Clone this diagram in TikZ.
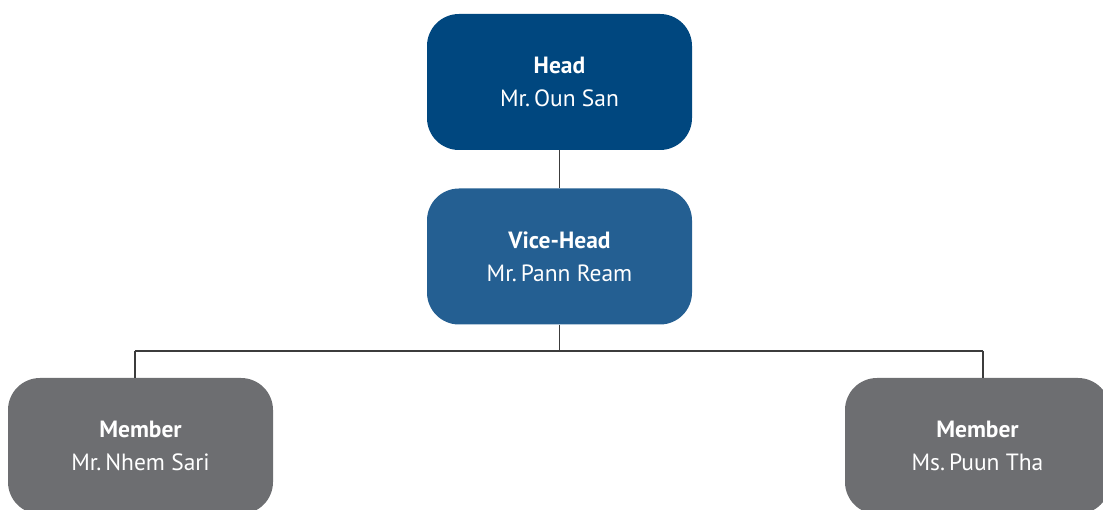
\documentclass[tikz,border=0pt]{standalone}
\usepackage{fontspec}
\setmainfont{PT Sans}
\definecolor{headblue}{HTML}{00477F}
\definecolor{viceblue}{HTML}{245F92}
\definecolor{membergray}{HTML}{6D6E71}
\definecolor{linegray}{HTML}{3C3C3C}
\begin{document}
\begin{tikzpicture}[x=1pt,y=-1pt,
  box/.style={rounded corners=32pt, minimum width=265pt, minimum height=136pt,
    inner sep=0pt, text=white, align=center, font=\fontsize{23.5}{33}\selectfont},
  link/.style={draw=linegray, line width=1.1pt}]
\useasboundingbox (0,0) rectangle (1103,510);
\begin{scope}
\clip (0,0) rectangle (1103,510);
\node[box, fill=headblue] (head) at (559.5,82) {\textbf{Head}\\Mr.\,Oun San};
\node[box, fill=viceblue] (vice) at (559.5,256.5) {\textbf{Vice-Head}\\Mr.\,Pann Ream};
\node[box, fill=membergray] (m1) at (140.5,446) {\textbf{Member}\\Mr.\,Nhem Sari};
\node[box, fill=membergray] (m2) at (977.5,446) {\textbf{Member}\\Ms.\,Puun Tha};
\coordinate (j) at (559.5,351);
\coordinate (jl) at (135,351);
\coordinate (jr) at (983,351);
\draw[link] (head.south) -- (vice.north);
\draw[link] (vice.south) -- (j);
\draw[link] (jl) -- (jr);
\draw[link] (jl) -- (jl |- m1.north);
\draw[link] (jr) -- (jr |- m2.north);
\end{scope}
\end{tikzpicture}
\end{document}
